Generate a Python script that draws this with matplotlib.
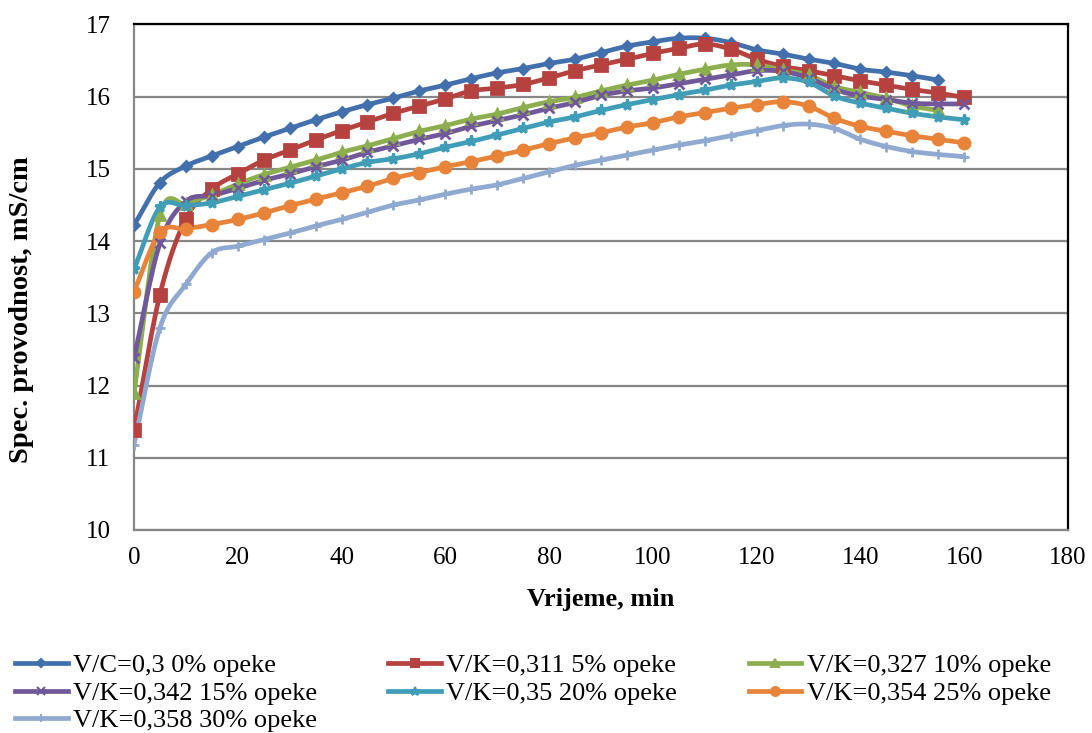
import matplotlib
matplotlib.use('Agg')
import matplotlib.pyplot as plt
import numpy as np

# vrijeme, min (mjerenja svakih 5 min)
t155 = list(range(0, 156, 5))
t160 = list(range(0, 161, 5))

vc_030 = [14.22, 14.81, 15.04, 15.18, 15.31, 15.44, 15.56, 15.68, 15.79, 15.89,
          15.98, 16.08, 16.16, 16.25, 16.33, 16.39, 16.46, 16.52, 16.61, 16.70,
          16.76, 16.81, 16.81, 16.75, 16.65, 16.59, 16.52, 16.46, 16.38, 16.34,
          16.29, 16.23]
vk_0311 = [11.38, 13.26, 14.31, 14.72, 14.93, 15.12, 15.26, 15.40, 15.53, 15.65,
           15.77, 15.87, 15.97, 16.08, 16.12, 16.17, 16.26, 16.36, 16.44, 16.52,
           16.60, 16.67, 16.73, 16.66, 16.52, 16.42, 16.36, 16.29, 16.22, 16.16,
           16.10, 16.05, 15.99]
vk_0327 = [11.90, 14.36, 14.52, 14.64, 14.79, 14.92, 15.02, 15.12, 15.23, 15.32,
           15.42, 15.52, 15.60, 15.69, 15.76, 15.85, 15.93, 15.99, 16.08, 16.16,
           16.23, 16.31, 16.38, 16.44, 16.44, 16.37, 16.30, 16.14, 16.06, 15.98,
           15.87, 15.81]
vk_0342 = [12.38, 13.97, 14.55, 14.63, 14.73, 14.84, 14.93, 15.03, 15.12, 15.23,
           15.32, 15.41, 15.49, 15.59, 15.67, 15.75, 15.84, 15.92, 16.02, 16.08,
           16.12, 16.18, 16.24, 16.30, 16.36, 16.35, 16.26, 16.10, 16.01, 15.96,
           15.91, 15.90, 15.90]
vk_035 = [13.61, 14.47, 14.49, 14.53, 14.62, 14.71, 14.80, 14.90, 15.00, 15.09,
          15.14, 15.21, 15.30, 15.38, 15.47, 15.56, 15.65, 15.72, 15.81, 15.89,
          15.96, 16.03, 16.09, 16.16, 16.21, 16.26, 16.20, 16.01, 15.91, 15.84,
          15.77, 15.72, 15.68]
vk_0354 = [13.30, 14.12, 14.17, 14.23, 14.30, 14.39, 14.49, 14.58, 14.67, 14.76,
           14.87, 14.95, 15.03, 15.10, 15.18, 15.26, 15.35, 15.43, 15.50, 15.58,
           15.64, 15.72, 15.78, 15.84, 15.89, 15.93, 15.87, 15.70, 15.59, 15.52,
           15.46, 15.41, 15.36]
vk_0358 = [11.18, 12.80, 13.40, 13.84, 13.93, 14.02, 14.11, 14.21, 14.30, 14.40,
           14.50, 14.57, 14.65, 14.72, 14.78, 14.87, 14.96, 15.05, 15.12, 15.19,
           15.26, 15.33, 15.39, 15.46, 15.53, 15.60, 15.62, 15.56, 15.41, 15.31,
           15.24, 15.20, 15.17]

labels = ['V/C=0,3 0% opeke', 'V/K=0,311 5% opeke', 'V/K=0,327 10% opeke',
          'V/K=0,342 15% opeke', 'V/K=0,35 20% opeke', 'V/K=0,354 25% opeke',
          'V/K=0,358 30% opeke']
series = [(t155, vc_030), (t160, vk_0311), (t155, vk_0327), (t160, vk_0342),
          (t160, vk_035), (t160, vk_0354), (t160, vk_0358)]
colors = ['#4170AD', '#B5423F', '#8DAE4F', '#71589A', '#3F9DB7', '#E8843A', '#8FA9D1']
markers = ['D', 's', '^', 'x', '*', 'o', '+']
msizes = [5, 8, 7, 7, 8, 8, 7]


def smooth(x, y, n=12):
    '''Catmull-Rom krivulja kroz tocke (kao "smoothed line" u Excelu)'''
    x = np.asarray(x, float)
    y = np.asarray(y, float)
    px = np.concatenate([[2 * x[0] - x[1]], x, [2 * x[-1] - x[-2]]])
    py = np.concatenate([[2 * y[0] - y[1]], y, [2 * y[-1] - y[-2]]])
    s = np.linspace(0, 1, n, endpoint=False)
    xs, ys = [], []
    for i in range(1, len(px) - 2):
        for p, out in ((px, xs), (py, ys)):
            p0, p1, p2, p3 = p[i - 1], p[i], p[i + 1], p[i + 2]
            out.extend(0.5 * (2 * p1 + (-p0 + p2) * s
                              + (2 * p0 - 5 * p1 + 4 * p2 - p3) * s ** 2
                              + (-p0 + 3 * p1 - 3 * p2 + p3) * s ** 3))
    xs.append(x[-1])
    ys.append(y[-1])
    return np.array(xs), np.array(ys)


plt.rcParams['font.family'] = ['Liberation Serif', 'DejaVu Serif']

fig = plt.figure(figsize=(10.92, 7.33), dpi=100)
ax = fig.add_axes([0.1227, 0.277, 0.8553, 0.6896])

handles = []
for (x, y), lab, c, m, ms in zip(series, labels, colors, markers, msizes):
    sx, sy = smooth(x, y)
    ax.plot(sx, sy, color=c, lw=3.4, solid_capstyle='round', zorder=3)
    ax.plot(x, y, ls='none', marker=m, ms=ms, color=c, mew=2, zorder=4)
    h, = ax.plot([], [], color=c, lw=3.4, marker=m, ms=ms * 0.8, mew=1.5, label=lab)
    handles.append(h)

ax.set_xlim(0, 180)
ax.set_ylim(10, 17)
ax.set_xticks(np.arange(0, 181, 20))
ax.set_yticks(np.arange(10, 18, 1))
ax.grid(axis='y', color='#878787', lw=1.6)
ax.set_axisbelow(True)
ax.tick_params(labelsize=18, length=0, colors='black')
ax.tick_params(axis='y', pad=17)
ax.tick_params(axis='x', pad=12)
for side in ['left', 'bottom']:
    ax.spines[side].set_color('#878787')
    ax.spines[side].set_linewidth(1.6)
for side in ['top', 'right']:
    ax.spines[side].set_color('black')
    ax.spines[side].set_linewidth(1.6)

ax.set_xlabel('Vrijeme, min', fontsize=19, fontweight='bold', va='center')
ax.xaxis.set_label_coords(0.5, -0.1385)
ax.set_ylabel('Spec. provodnost, mS/cm', fontsize=20.5, fontweight='bold', va='center')
ax.yaxis.set_label_coords(-0.12, 0.435)

order = [0, 3, 6, 1, 4, 2, 5]
fig.legend([handles[i] for i in order], [labels[i] for i in order], ncol=3,
           loc='upper left', bbox_to_anchor=(15 / 1092, 1 - 654 / 733), frameon=False,
           fontsize=19, handlelength=2.0, handletextpad=0.2,
           columnspacing=2.7, labelspacing=0.15, borderaxespad=0, borderpad=0)

fig.savefig('out.png', dpi=100)
